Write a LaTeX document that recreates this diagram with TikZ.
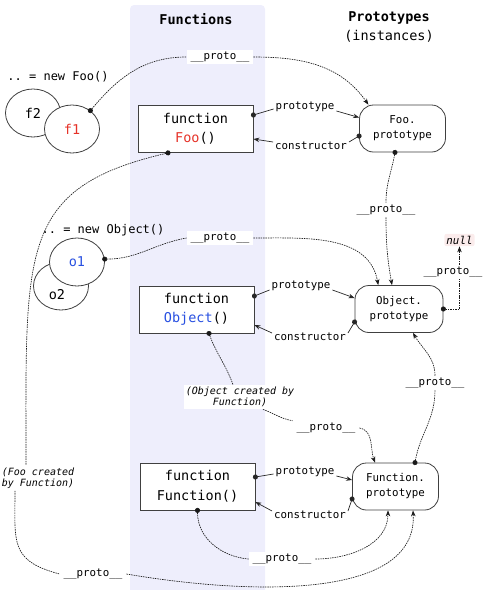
\documentclass[tikz,border=0pt]{standalone}
\usepackage{fontspec}
\setmonofont{DejaVu Sans Mono}
\usetikzlibrary{arrows.meta,shapes.geometric}

\definecolor{colbg}{RGB}{238,238,252}
\definecolor{nullbg}{RGB}{251,236,236}
\definecolor{fred}{RGB}{230,50,40}
\definecolor{oblue}{RGB}{40,80,225}
\newcommand{\protolbl}{\_\_proto\_\_}

\begin{document}
\begin{tikzpicture}[x=1pt, y=1pt, >={Stealth[length=6pt,width=4.5pt]},
    fbox/.style={draw=black!75, line width=0.8pt, fill=white, minimum width=115pt, minimum height=47pt,
        align=center, font=\ttfamily\fontsize{13.5}{19.5}\selectfont},
    pbox/.style={draw=black!75, line width=0.8pt, fill=white, rounded corners=14pt, minimum width=86pt,
        minimum height=47pt, align=center, font=\ttfamily\fontsize{10.8}{15}\selectfont},
    inst/.style={ellipse, draw=black!75, line width=0.8pt, fill=white, minimum width=55pt, minimum height=48pt,
        inner sep=0pt, font=\ttfamily\fontsize{13.5}{16}\selectfont},
    lbl/.style={font=\ttfamily\fontsize{10.8}{13}\selectfont, inner sep=2pt},
    pr/.style={lbl, fill=white, inner xsep=4pt},
    note/.style={fill=white, align=center, inner sep=2pt, font=\ttfamily\itshape\fontsize{10}{11.5}\selectfont},
    dline/.style={black!90, line width=0.65pt, dash pattern=on 1.5pt off 0.9pt},
    sol/.style={black!85, line width=0.7pt},
    dotstart/.style={{Circle[length=5pt]}-, shorten <=-2.5pt}]
    \useasboundingbox (0,0) rectangle (488,-590);
    % column of functions
    \fill[colbg, rounded corners=4pt] (130,-5) rectangle (265,-600);
    \node[font=\ttfamily\bfseries\fontsize{13.5}{16}\selectfont] (hfun) at (196,-19) {Functions};
    \node[align=center, font=\ttfamily\fontsize{13.5}{19}\selectfont] (hproto) at (389,-27) {\textbf{Prototypes}\\(instances)};

    % instances
    \node[lbl, font=\ttfamily\fontsize{12}{14}\selectfont] (newfoo) at (58,-77) {.. = new Foo()};
    \node[inst] (f2) at (33,-113) {f2};
    \node[inst] (f1) at (72,-129) {\textcolor{fred}{f1}};
    \node[lbl, font=\ttfamily\fontsize{12}{14}\selectfont] (newobj) at (103,-230) {.. = new Object()};
    \node[inst] (o2) at (61,-286) {};
    \node[font=\ttfamily\fontsize{13.5}{16}\selectfont, inner sep=1pt] (o2txt) at (57,-295) {o2};
    \node[inst] (o1) at (77,-262) {\textcolor{oblue}{o1}};

    % functions and prototypes
    \node[fbox] (foo) at (195.5,-129) {function\\\textcolor{fred}{Foo}()};
    \node[fbox] (obj) at (196.5,-309.5) {function\\\textcolor{oblue}{Object}()};
    \node[fbox] (fun) at (197.5,-486.5) {function\\Function()};
    \node[pbox] (fooproto) at (402.5,-128.5) {Foo.\\prototype};
    \node[pbox, minimum width=88pt] (objproto) at (399,-309) {Object.\\prototype};
    \node[pbox] (funproto) at (395.5,-486.5) {Function.\\prototype};
    \node[lbl, fill=nullbg, rounded corners=2pt, font=\ttfamily\itshape\fontsize{10.8}{13}\selectfont] (nul) at (459.5,-240) {null};

    % labels
    \node[lbl] (fooP) at (305,-107) {prototype};
    \node[lbl] (fooC) at (311,-146) {constructor};
    \node[lbl] (objP) at (301,-286) {prototype};
    \node[lbl] (objC) at (310,-337) {constructor};
    \node[lbl] (funP) at (305,-472) {prototype};
    \node[lbl] (funC) at (310,-515) {constructor};
    \node[pr] (p1) at (220,-57) {\protolbl};
    \node[pr] (p2) at (386,-210) {\protolbl};
    \node[pr] (p3) at (220,-238) {\protolbl};
    \node[pr] (p4) at (453,-272) {\protolbl};
    \node[pr] (p5) at (326,-428) {\protolbl};
    \node[pr] (p6) at (435,-383) {\protolbl};
    \node[pr] (p7) at (282,-559) {\protolbl};
    \node[pr] (p8) at (93,-574) {\protolbl};
    \node[note] (objnote) at (240,-397) {(Object created by\\Function)};
    \node[note] (foonote) at (38,-478) {(Foo created\\by Function)};

    % prototype / constructor
    \draw[sol, dotstart] ([yshift=14pt]foo.east) -- ([yshift=-2pt]fooP.west);
    \draw[sol, ->] ([yshift=-4pt]fooP.east) -- ([yshift=11pt]fooproto.west);
    \draw[sol, dotstart] ([yshift=-7.5pt]fooproto.west) -- ([yshift=4pt]fooC.east);
    \draw[sol, ->] ([yshift=4pt]fooC.west) -- ([yshift=-10pt]foo.east);
    \draw[sol, dotstart] ([yshift=13.5pt]obj.east) -- ([yshift=-4pt]objP.west);
    \draw[sol, ->] ([yshift=-4pt]objP.east) -- ([yshift=11pt]objproto.west);
    \draw[sol, dotstart] ([yshift=-13pt]objproto.west) -- ([yshift=4pt]objC.east);
    \draw[sol, ->] ([yshift=4pt]objC.west) -- ([yshift=-15.5pt]obj.east);
    \draw[sol, dotstart] ([yshift=9.5pt]fun.east) -- ([yshift=-2pt]funP.west);
    \draw[sol, ->] ([yshift=-4pt]funP.east) -- ([yshift=6.5pt]funproto.west);
    \draw[sol, dotstart] ([yshift=-12.5pt]funproto.west) -- ([yshift=4pt]funC.east);
    \draw[sol, ->] ([yshift=4pt]funC.west) -- ([yshift=-15.5pt]fun.east);

    % __proto__ chains
    \draw[dline, dotstart] (f1.45) to[out=50, in=180] (p1.west);
    \draw[dline, ->] (p1.east) to[out=0, in=125] (fooproto.145);
    \draw[dline, dotstart] ([xshift=-7.5pt]fooproto.south) to[out=-100, in=90] (p2.north);
    \draw[dline, ->] (p2.south) to[out=-90, in=100] ([xshift=-7pt]objproto.north);
    \draw[dline, dotstart] (o1.6) to[out=0, in=190] (p3.west);
    \draw[dline, ->] (p3.east) to[out=0, in=100] (objproto.131);
    \draw[dline, dotstart] (objproto.east) -| ([xshift=6.5pt]p4.south);
    \draw[dline, ->] ([xshift=6.5pt]p4.north) -- (nul.south);
    \draw[dline, dotstart] ([xshift=12.5pt]obj.south) to[out=-70, in=110] ([xshift=-7pt]objnote.north);
    \draw[dline] ([xshift=23pt]objnote.south) to[out=-20, in=170] (p5.north west);
    \draw[dline, ->] (p5.east) to[out=-10, in=110] ([xshift=-20.5pt]funproto.north);
    \draw[dline, dotstart] ([xshift=19.5pt]funproto.north) to[out=80, in=-90] (p6.south);
    \draw[dline, ->] (p6.north) to[out=90, in=-60] ([xshift=14pt]objproto.south);
    \draw[dline, dotstart] (fun.south) to[out=-90, in=175] (p7.west);
    \draw[dline, ->] (p7.east) to[out=0, in=-90] ([xshift=-7.5pt]funproto.south);
    \draw[dline, dotstart] ([xshift=-27.5pt]foo.south) .. controls (18,-188) and (26,-250) .. ([xshift=-12pt]foonote.north);
    \draw[dline] ([xshift=-23pt]foonote.south) to[out=-90, in=165, looseness=1.4] (p8.west);
    \draw[dline, ->] (p8.east) .. controls (250,-595) and (418,-600) .. ([xshift=17.5pt]funproto.south);
\end{tikzpicture}
\end{document}
